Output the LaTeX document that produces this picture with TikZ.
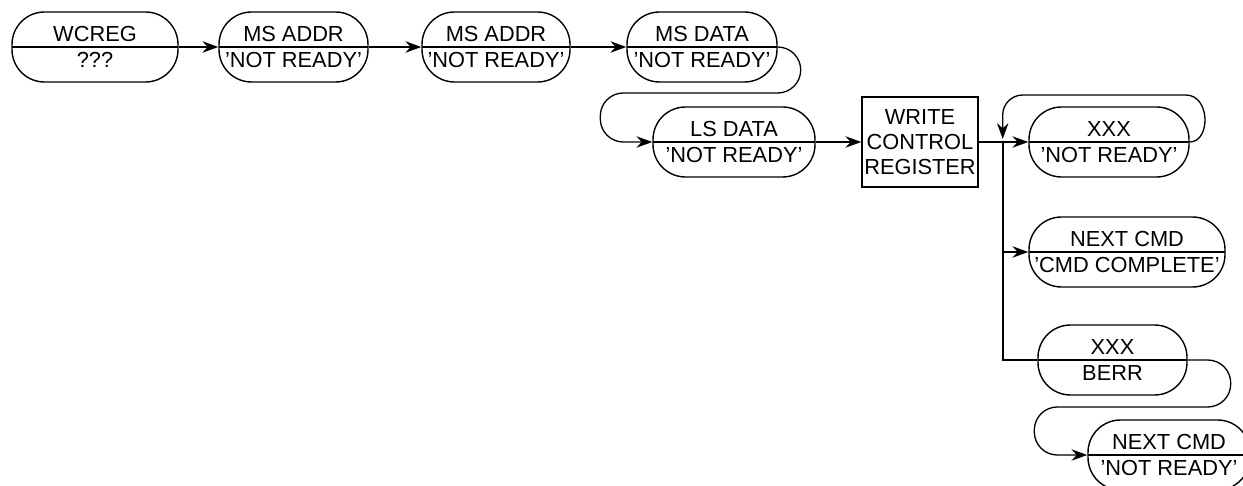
\documentclass[tikz,border=0pt]{standalone}
\usepackage{fontspec}
\setmainfont{Liberation Sans}
\usetikzlibrary{arrows.meta,calc}

\begin{document}
\begin{tikzpicture}[x=0.2mm, y=-0.2mm, >={Stealth[length=9pt,width=6.5pt]},
    font=\fontsize{12.4}{14.4}\selectfont,
    stnode/.style={draw, line width=0.8pt, rounded corners=0.65cm, minimum height=1.4cm,
      inner sep=0pt, align=center,
      path picture={\draw[line width=1.1pt] (path picture bounding box.west) -- (path picture bounding box.east);}},
    regbox/.style={draw, line width=0.8pt, minimum width=2.32cm, minimum height=1.8cm,
      inner sep=0pt, align=center},
    flow/.style={->, line width=1.1pt},
    backflow/.style={->, line width=0.75pt}]
    \useasboundingbox (0,0) rectangle (1243,486);
    \clip (0,0) rectangle (1243,486);

    % top row
    \node[stnode, minimum width=3.32cm] (wcreg) at (95,47) {WCREG\\???};
    \node[stnode, minimum width=2.98cm] (adr1) at (293.5,47) {MS ADDR\\'NOT READY'};
    \node[stnode, minimum width=2.96cm] (adr2) at (496,47) {MS ADDR\\'NOT READY'};
    \node[stnode, minimum width=3.0cm] (msd) at (702,47) {MS DATA\\'NOT READY'};

    % second row
    \node[stnode, minimum width=3.24cm] (lsd) at (734,142) {LS DATA\\'NOT READY'};
    \node[regbox] (wcr) at (920,142) {WRITE\\CONTROL\\REGISTER};
    \node[stnode, minimum width=3.2cm] (xxx1) at (1109,142) {XXX\\'NOT READY'};

    % branches
    \node[stnode, minimum width=3.92cm] (next1) at (1127,252) {NEXT CMD\\'CMD COMPLETE'};
    \node[stnode, minimum width=2.98cm] (berr) at (1112.5,360) {XXX\\BERR};
    \node[stnode, minimum width=3.24cm] (next2) at (1169,455) {NEXT CMD\\'NOT READY'};

    \draw[flow] (wcreg.east) -- (adr1.west);
    \draw[flow] (adr1.east) -- (adr2.west);
    \draw[flow] (adr2.east) -- (msd.west);
    \draw[backflow, rounded corners=0.46cm] (msd.east) -| ++(23,46) -| ($(lsd.west)+(-52,0)$) -- (lsd.west);
    \draw[flow] (lsd.east) -- (wcr.west);

    \coordinate (split) at ($(wcr.east)+(24,0)$);
    \draw[flow] (wcr.east) -- (split) -- (xxx1.west);
    \draw[backflow] (xxx1.east) .. controls +(21,0) and +(25,0) .. ($(xxx1.east)+(-4,-47)$)
        [rounded corners=0.4cm] -- ($(split)+(0,-47)$) -- ($(split)+(0,-3)$);
    \draw[flow] (split) |- (next1.west);
    \draw[line width=1.1pt] (split) |- (berr.west);
    \draw[backflow, rounded corners=0.46cm] (berr.east) -| ++(43,47) -| ($(next2.west)+(-53,0)$) -- (next2.west);
\end{tikzpicture}
\end{document}
